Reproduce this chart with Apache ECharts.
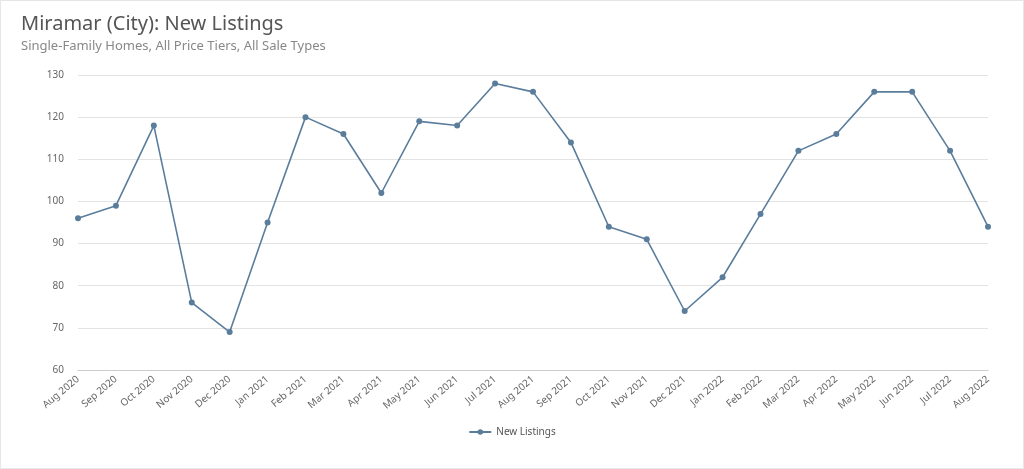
<!DOCTYPE html>
<html><head><meta charset="utf-8">
<script src="https://cdn.jsdelivr.net/npm/echarts@6/dist/echarts.min.js"></script>
<style>html,body{margin:0;padding:0;background:#fff}#c{width:1024px;height:469px;box-sizing:border-box;border:1px solid #e6e6e6}</style>
</head><body><div id="c"></div>
<script>
const categories = ["Aug 2020","Sep 2020","Oct 2020","Nov 2020","Dec 2020","Jan 2021","Feb 2021","Mar 2021","Apr 2021","May 2021","Jun 2021","Jul 2021","Aug 2021","Sep 2021","Oct 2021","Nov 2021","Dec 2021","Jan 2022","Feb 2022","Mar 2022","Apr 2022","May 2022","Jun 2022","Jul 2022","Aug 2022"];
const newListings = [96,99,118,76,69,95,120,116,102,119,118,128,126,114,94,91,74,82,97,112,116,126,126,112,94];
const chart = echarts.init(document.getElementById('c'));
chart.setOption({
  textStyle:{fontFamily:'"Noto Sans", sans-serif'},
  title:{text:'Miramar (City): New Listings',subtext:'Single-Family Homes, All Price Tiers, All Sale Types',left:15,top:8,
    textStyle:{fontSize:20,fontWeight:'normal',color:'#555'},subtextStyle:{fontSize:13,color:'#888'},itemGap:6},
  legend:{bottom:26,left:'center',itemWidth:22,itemHeight:7,textStyle:{fontSize:10,color:'#555'},data:['New Listings']},
  grid:{left:77,right:35,top:74,bottom:98},
  xAxis:{type:'category',data:categories,boundaryGap:false,
    axisLine:{lineStyle:{color:'#ccc'}},axisTick:{show:false},
    axisLabel:{rotate:40,fontSize:10,color:'#666',interval:0}},
  yAxis:{type:'value',min:60,max:130,interval:10,axisLabel:{fontSize:10,color:'#666',margin:14},
    splitLine:{lineStyle:{color:'#e3e3e3'}},axisLine:{show:false},axisTick:{show:false}},
  series:[{name:'New Listings',type:'line',data:newListings,symbol:'circle',symbolSize:6,
    lineStyle:{color:'#5a7d9c',width:1.6},itemStyle:{color:'#5a7d9c'}}]
});
</script></body></html>
